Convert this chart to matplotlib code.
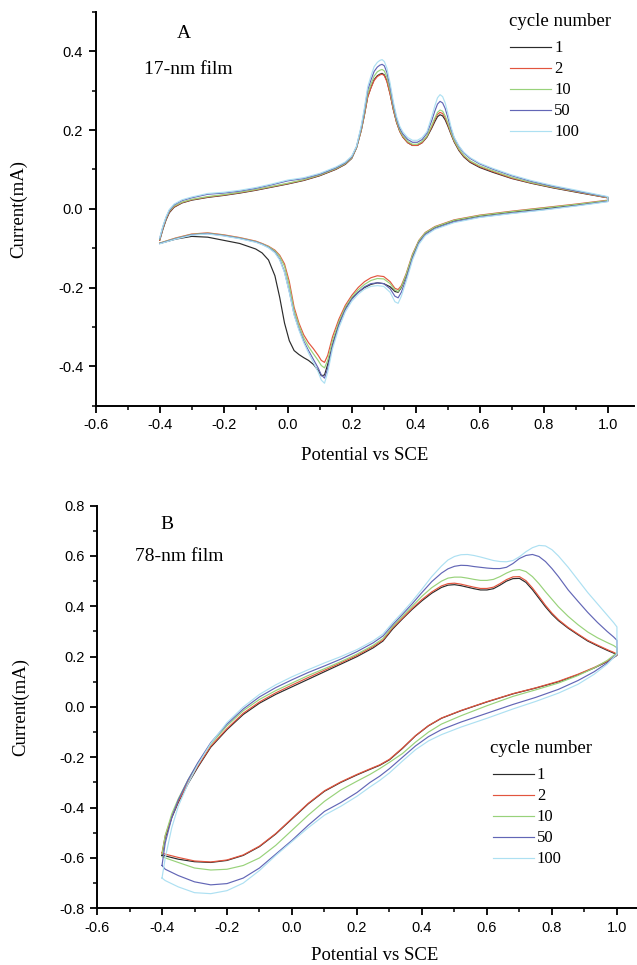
import numpy as np
from matplotlib import pyplot as plt

cycles = ["1", "2", "10", "50", "100"]
colors = ["#2b2b2b", "#e2553e", "#98d27a", "#6266b6", "#ade0f2"]

# ---- panel A, 17-nm film (potential in V, current in mA) ----
xa_up = [-0.400, -0.390, -0.380, -0.370, -0.355, -0.330, -0.300, -0.250, -0.200, -0.150,
         -0.100, -0.050, 0.000, 0.050, 0.100, 0.150, 0.180, 0.200,
         0.215, 0.230, 0.240, 0.250, 0.260, 0.270, 0.280, 0.288, 0.295, 0.302,
         0.310, 0.320, 0.330, 0.340, 0.350, 0.360, 0.375, 0.390, 0.405,
         0.420, 0.435, 0.450, 0.460, 0.468, 0.476, 0.484, 0.492, 0.500, 0.510, 0.520,
         0.535, 0.550, 0.570, 0.600, 0.640, 0.700, 0.760, 0.830, 0.910, 1.000]

ya_up_1 = [-0.080, -0.052, -0.028, -0.010, 0.004, 0.015, 0.022, 0.029, 0.034, 0.040,
           0.047, 0.055, 0.063, 0.072, 0.084, 0.100, 0.113, 0.128,
           0.155, 0.200, 0.240, 0.285, 0.308, 0.328, 0.338, 0.342, 0.344, 0.340,
           0.325, 0.292, 0.252, 0.220, 0.197, 0.182, 0.168, 0.161, 0.161,
           0.168, 0.182, 0.205, 0.222, 0.234, 0.239, 0.236, 0.226, 0.211, 0.190, 0.170,
           0.148, 0.132, 0.118, 0.105, 0.093, 0.077, 0.065, 0.053, 0.041, 0.028]
ya_up_2 = [-0.080, -0.050, -0.026, -0.008, 0.005, 0.016, 0.023, 0.030, 0.035, 0.041,
           0.048, 0.056, 0.064, 0.073, 0.085, 0.101, 0.114, 0.129,
           0.155, 0.200, 0.240, 0.284, 0.307, 0.326, 0.336, 0.340, 0.342, 0.338,
           0.323, 0.291, 0.252, 0.220, 0.197, 0.182, 0.168, 0.161, 0.161,
           0.168, 0.184, 0.208, 0.227, 0.240, 0.245, 0.242, 0.231, 0.215, 0.192, 0.172,
           0.150, 0.134, 0.120, 0.107, 0.095, 0.078, 0.066, 0.054, 0.042, 0.028]
ya_up_10 = [-0.078, -0.048, -0.024, -0.006, 0.007, 0.017, 0.024, 0.031, 0.036, 0.042,
            0.049, 0.057, 0.065, 0.074, 0.086, 0.102, 0.115, 0.130,
            0.156, 0.203, 0.245, 0.292, 0.316, 0.337, 0.348, 0.352, 0.354, 0.350,
            0.334, 0.300, 0.258, 0.224, 0.200, 0.185, 0.171, 0.164, 0.164,
            0.171, 0.185, 0.212, 0.231, 0.245, 0.251, 0.248, 0.236, 0.219, 0.195, 0.174,
            0.152, 0.136, 0.122, 0.109, 0.097, 0.080, 0.067, 0.055, 0.043, 0.029]
ya_up_50 = [-0.076, -0.046, -0.022, -0.004, 0.010, 0.021, 0.028, 0.037, 0.040, 0.045,
            0.052, 0.061, 0.071, 0.077, 0.088, 0.104, 0.117, 0.132,
            0.158, 0.208, 0.252, 0.302, 0.327, 0.349, 0.360, 0.365, 0.367, 0.363,
            0.346, 0.310, 0.265, 0.230, 0.205, 0.190, 0.176, 0.169, 0.169,
            0.176, 0.192, 0.224, 0.249, 0.266, 0.273, 0.269, 0.255, 0.233, 0.203, 0.180,
            0.158, 0.142, 0.128, 0.114, 0.101, 0.084, 0.070, 0.057, 0.044, 0.030]
ya_up_100 = [-0.074, -0.044, -0.020, -0.002, 0.012, 0.023, 0.030, 0.039, 0.042, 0.047,
             0.054, 0.063, 0.073, 0.079, 0.090, 0.106, 0.119, 0.134,
             0.159, 0.212, 0.258, 0.310, 0.337, 0.361, 0.372, 0.377, 0.379, 0.374,
             0.357, 0.319, 0.272, 0.235, 0.210, 0.195, 0.181, 0.174, 0.174,
             0.181, 0.196, 0.234, 0.262, 0.282, 0.290, 0.285, 0.269, 0.244, 0.209, 0.182,
             0.160, 0.144, 0.130, 0.116, 0.103, 0.086, 0.072, 0.059, 0.046, 0.031]

xa_dn = [1.000, 0.900, 0.800, 0.700, 0.600, 0.520, 0.460, 0.430, 0.410, 0.390,
         0.370, 0.355, 0.345, 0.335, 0.320, 0.300, 0.280, 0.260, 0.240, 0.220,
         0.200, 0.180, 0.160, 0.140, 0.125, 0.115, 0.105, 0.095, 0.080, 0.065,
         0.050, 0.035, 0.020, 0.005, -0.010, -0.025, -0.040, -0.060, -0.080, -0.100,
         -0.150, -0.200, -0.250, -0.300, -0.350, -0.400]

ya_dn_1 = [0.020, 0.010, 0.000, -0.008, -0.018, -0.030, -0.047, -0.062, -0.082, -0.120,
           -0.170, -0.200, -0.212, -0.210, -0.198, -0.190, -0.188, -0.192, -0.200, -0.212,
           -0.228, -0.252, -0.290, -0.345, -0.395, -0.422, -0.424, -0.410, -0.395, -0.385,
           -0.378, -0.370, -0.360, -0.335, -0.290, -0.225, -0.170, -0.130, -0.112, -0.102,
           -0.088, -0.080, -0.072, -0.070, -0.077, -0.088]
ya_dn_2 = [0.022, 0.012, 0.003, -0.006, -0.016, -0.028, -0.045, -0.060, -0.080, -0.115,
           -0.165, -0.195, -0.205, -0.202, -0.185, -0.172, -0.170, -0.175, -0.185, -0.200,
           -0.220, -0.245, -0.280, -0.325, -0.372, -0.390, -0.385, -0.372, -0.355, -0.340,
           -0.320, -0.290, -0.250, -0.185, -0.140, -0.118, -0.105, -0.095, -0.088, -0.082,
           -0.073, -0.066, -0.061, -0.064, -0.074, -0.087]
ya_dn_10 = [0.021, 0.011, 0.002, -0.007, -0.017, -0.029, -0.046, -0.061, -0.081, -0.117,
            -0.167, -0.198, -0.210, -0.206, -0.190, -0.178, -0.177, -0.182, -0.192, -0.206,
            -0.225, -0.250, -0.287, -0.335, -0.385, -0.404, -0.398, -0.385, -0.368, -0.350,
            -0.328, -0.296, -0.258, -0.195, -0.146, -0.121, -0.107, -0.096, -0.089, -0.083,
            -0.074, -0.067, -0.062, -0.065, -0.075, -0.087]
ya_dn_50 = [0.019, 0.008, -0.002, -0.011, -0.021, -0.033, -0.050, -0.065, -0.086, -0.125,
            -0.178, -0.212, -0.226, -0.222, -0.203, -0.190, -0.188, -0.190, -0.198, -0.212,
            -0.230, -0.256, -0.295, -0.348, -0.405, -0.430, -0.422, -0.404, -0.382, -0.360,
            -0.336, -0.305, -0.268, -0.210, -0.160, -0.128, -0.110, -0.098, -0.090, -0.084,
            -0.075, -0.068, -0.063, -0.066, -0.076, -0.088]
ya_dn_100 = [0.018, 0.007, -0.003, -0.012, -0.022, -0.035, -0.052, -0.068, -0.090, -0.130,
             -0.185, -0.222, -0.240, -0.236, -0.212, -0.197, -0.195, -0.197, -0.204, -0.217,
             -0.235, -0.262, -0.302, -0.356, -0.415, -0.443, -0.435, -0.414, -0.390, -0.366,
             -0.340, -0.308, -0.270, -0.212, -0.162, -0.130, -0.112, -0.099, -0.091, -0.085,
             -0.076, -0.069, -0.064, -0.067, -0.077, -0.089]

# ---- panel B, 78-nm film ----
xb_up = [-0.40, -0.39, -0.37, -0.35, -0.32, -0.29, -0.25, -0.20, -0.15, -0.10,
         -0.05, 0.00, 0.05, 0.10, 0.15, 0.20, 0.25, 0.28, 0.31, 0.34,
         0.37, 0.40, 0.43, 0.46, 0.48, 0.50, 0.52, 0.54, 0.56, 0.58,
         0.60, 0.62, 0.64, 0.66, 0.68, 0.70, 0.72, 0.74, 0.76, 0.78,
         0.80, 0.82, 0.85, 0.88, 0.91, 0.94, 0.97, 0.99, 1.00]

yb_up_1 = [-0.590, -0.520, -0.440, -0.380, -0.305, -0.240, -0.160, -0.090, -0.030, 0.015,
           0.050, 0.080, 0.110, 0.140, 0.170, 0.200, 0.235, 0.262, 0.310, 0.350,
           0.388, 0.422, 0.452, 0.475, 0.484, 0.486, 0.482, 0.476, 0.470, 0.465,
           0.465, 0.470, 0.484, 0.500, 0.510, 0.511, 0.495, 0.466, 0.432, 0.398,
           0.368, 0.343, 0.313, 0.287, 0.262, 0.243, 0.225, 0.214, 0.208]
yb_up_2 = [-0.580, -0.512, -0.435, -0.376, -0.300, -0.236, -0.156, -0.086, -0.025, 0.020,
           0.056, 0.087, 0.117, 0.146, 0.175, 0.205, 0.240, 0.266, 0.315, 0.353,
           0.392, 0.427, 0.457, 0.481, 0.490, 0.492, 0.488, 0.482, 0.476, 0.471,
           0.471, 0.476, 0.490, 0.506, 0.517, 0.518, 0.502, 0.473, 0.439, 0.404,
           0.373, 0.347, 0.316, 0.290, 0.265, 0.246, 0.228, 0.217, 0.210]
yb_up_10 = [-0.585, -0.510, -0.425, -0.365, -0.290, -0.225, -0.148, -0.075, -0.015, 0.030,
            0.065, 0.095, 0.125, 0.152, 0.180, 0.210, 0.245, 0.272, 0.320, 0.360,
            0.400, 0.440, 0.474, 0.500, 0.512, 0.516, 0.516, 0.512, 0.507, 0.503,
            0.503, 0.507, 0.518, 0.532, 0.543, 0.546, 0.538, 0.518, 0.490, 0.458,
            0.428, 0.398, 0.360, 0.327, 0.298, 0.275, 0.256, 0.244, 0.235]
yb_up_50 = [-0.630, -0.540, -0.440, -0.370, -0.290, -0.222, -0.142, -0.068, -0.008, 0.040,
            0.077, 0.108, 0.137, 0.163, 0.190, 0.220, 0.255, 0.282, 0.327, 0.368,
            0.410, 0.455, 0.498, 0.532, 0.549, 0.559, 0.563, 0.562, 0.558, 0.555,
            0.552, 0.550, 0.550, 0.555, 0.570, 0.590, 0.602, 0.606, 0.598, 0.578,
            0.550, 0.518, 0.465, 0.420, 0.376, 0.336, 0.300, 0.278, 0.265]
yb_up_100 = [-0.680, -0.600, -0.480, -0.395, -0.305, -0.230, -0.145, -0.062, 0.000, 0.050,
             0.088, 0.120, 0.148, 0.175, 0.200, 0.228, 0.263, 0.290, 0.335, 0.376,
             0.420, 0.468, 0.518, 0.560, 0.584, 0.598, 0.605, 0.606, 0.602, 0.596,
             0.589, 0.582, 0.578, 0.577, 0.582, 0.597, 0.617, 0.633, 0.642, 0.640,
             0.625, 0.600, 0.555, 0.505, 0.455, 0.410, 0.365, 0.335, 0.318]

xb_dn = [1.00, 0.97, 0.93, 0.88, 0.82, 0.75, 0.68, 0.60, 0.52, 0.46,
         0.42, 0.38, 0.34, 0.30, 0.27, 0.24, 0.20, 0.15, 0.10, 0.05,
         0.00, -0.05, -0.10, -0.15, -0.20, -0.25, -0.30, -0.35, -0.39, -0.40]

yb_dn_1 = [0.205, 0.180, 0.155, 0.128, 0.100, 0.075, 0.052, 0.020, -0.015, -0.045,
           -0.075, -0.115, -0.165, -0.210, -0.232, -0.248, -0.270, -0.300, -0.335, -0.385,
           -0.445, -0.505, -0.555, -0.590, -0.610, -0.618, -0.615, -0.605, -0.592, -0.590]
yb_dn_2 = [0.207, 0.182, 0.157, 0.130, 0.102, 0.076, 0.053, 0.021, -0.014, -0.044,
           -0.074, -0.114, -0.163, -0.208, -0.230, -0.246, -0.268, -0.298, -0.333, -0.383,
           -0.443, -0.503, -0.553, -0.588, -0.608, -0.616, -0.612, -0.598, -0.585, -0.580]
yb_dn_10 = [0.215, 0.185, 0.155, 0.125, 0.095, 0.068, 0.042, 0.005, -0.035, -0.068,
            -0.100, -0.140, -0.185, -0.220, -0.245, -0.268, -0.295, -0.330, -0.375, -0.430,
            -0.490, -0.550, -0.600, -0.630, -0.645, -0.648, -0.640, -0.618, -0.600, -0.595]
yb_dn_50 = [0.210, 0.175, 0.140, 0.105, 0.070, 0.038, 0.010, -0.025, -0.060, -0.090,
            -0.118, -0.155, -0.200, -0.245, -0.275, -0.300, -0.340, -0.380, -0.415, -0.470,
            -0.530, -0.585, -0.640, -0.680, -0.702, -0.707, -0.695, -0.670, -0.645, -0.630]
yb_dn_100 = [0.210, 0.170, 0.130, 0.090, 0.055, 0.022, -0.008, -0.045, -0.080, -0.110,
             -0.135, -0.170, -0.215, -0.262, -0.292, -0.318, -0.355, -0.395, -0.430, -0.480,
             -0.535, -0.590, -0.650, -0.700, -0.730, -0.742, -0.738, -0.715, -0.690, -0.680]

plt.rcParams["font.family"] = ["Liberation Serif", "DejaVu Serif"]


def fmt(v, pos):
    return f"{round(v, 1) + 0.0:.1f}"


def style_axis(ax, xmax, ylim, yticks, ylab_x, xlab_y):
    ax.set_xlim(-0.6, xmax)
    ax.set_ylim(*ylim)
    ax.spines["top"].set_visible(False)
    ax.spines["right"].set_visible(False)
    ax.spines["left"].set_linewidth(1.4)
    ax.spines["bottom"].set_linewidth(1.4)
    ax.set_xticks(np.arange(-0.6, 1.01, 0.2))
    ax.set_xticks(np.arange(-0.5, 1.01, 0.2), minor=True)
    ax.set_yticks(yticks)
    ax.set_yticks(np.arange(ylim[0], ylim[1] + 0.01, 0.1), minor=True)
    ax.xaxis.set_major_formatter(plt.FuncFormatter(fmt))
    ax.yaxis.set_major_formatter(plt.FuncFormatter(fmt))
    ax.tick_params(which="major", direction="out", length=5, width=1.3, labelsize=10.5, pad=4)
    ax.tick_params(which="minor", direction="out", length=3, width=1.1)
    for lab in ax.get_xticklabels() + ax.get_yticklabels():
        lab.set_family("Liberation Sans")
    ax.set_xlabel("Potential vs SCE", fontsize=13.5)
    ax.set_ylabel("Current(mA)", fontsize=13.5)
    ax.xaxis.set_label_coords(0.5, xlab_y)
    ax.yaxis.set_label_coords(ylab_x, 0.5)


def plot_panel(ax, x_up, x_dn, ups, dns):
    for up, dn, c, lab in zip(ups, dns, colors, cycles):
        ax.plot(list(x_up) + list(x_dn), list(up) + list(dn), color=c, lw=0.85,
                label=lab, solid_joinstyle="round")


def add_legend(ax, anchor, title_xy):
    ax.legend(loc="center left", bbox_to_anchor=anchor, frameon=False, fontsize=12,
              handlelength=2.45, handletextpad=0.2, labelspacing=0.3, borderpad=0.0,
              borderaxespad=0.0)
    ax.text(title_xy[0], title_xy[1], "cycle number", transform=ax.transAxes,
            fontsize=13.5, ha="center", va="center")


fig = plt.figure(figsize=(6.37, 9.65), dpi=100)
ax_a = fig.add_axes([0.1502, 0.5796, 0.8451, 0.408])
ax_b = fig.add_axes([0.1523, 0.0588, 0.8713, 0.4172])

plot_panel(ax_a, xa_up, xa_dn,
           [ya_up_1, ya_up_2, ya_up_10, ya_up_50, ya_up_100],
           [ya_dn_1, ya_dn_2, ya_dn_10, ya_dn_50, ya_dn_100])
style_axis(ax_a, 1.082, (-0.5, 0.5), [-0.4, -0.2, 0.0, 0.2, 0.4], -0.128, -0.105)
ax_a.text(0.163, 0.945, "A", transform=ax_a.transAxes, fontsize=14, ha="center", va="center")
ax_a.text(0.09, 0.855, "17-nm film", transform=ax_a.transAxes, fontsize=14, ha="left", va="center")
add_legend(ax_a, (0.770, 0.8006), (0.863, 0.975))

plot_panel(ax_b, xb_up, xb_dn,
           [yb_up_1, yb_up_2, yb_up_10, yb_up_50, yb_up_100],
           [yb_dn_1, yb_dn_2, yb_dn_10, yb_dn_50, yb_dn_100])
style_axis(ax_b, 1.108, (-0.8, 0.8), np.arange(-0.8, 0.81, 0.2), -0.1225, -0.096)
ax_b.text(0.126, 0.953, "B", transform=ax_b.transAxes, fontsize=14, ha="center", va="center")
ax_b.text(0.068, 0.873, "78-nm film", transform=ax_b.transAxes, fontsize=14, ha="left", va="center")
add_legend(ax_b, (0.713, 0.2255), (0.80, 0.397))

fig.savefig("out.png", dpi=100)
